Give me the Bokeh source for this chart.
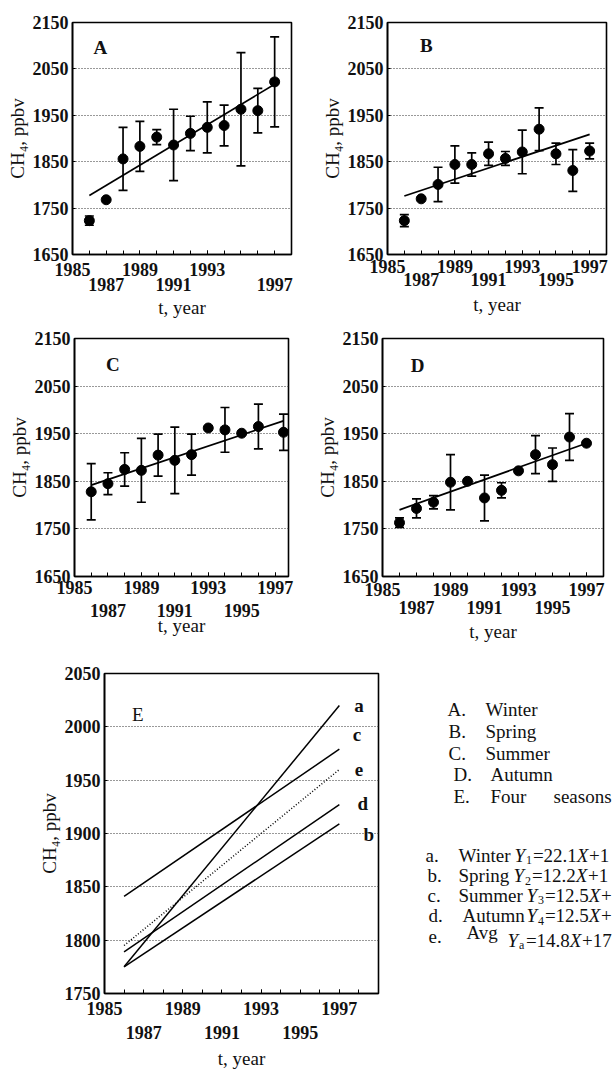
from bokeh.plotting import figure
from bokeh.models import LinearAxis, FixedTicker, ColumnDataSource, Whisker, TeeHead, Label, Range1d
from bokeh.layouts import column, row
from bokeh.embed import file_html
from bokeh.resources import INLINE
from bokeh.core.properties import value

FONT = "Liberation Serif"

# ---------------- data ----------------
years = [1986, 1987, 1988, 1989, 1990, 1991, 1992, 1993, 1994, 1995, 1996, 1997]
years_c = [1986, 1987, 1988, 1989, 1990, 1991, 1992, 1993, 1994, 1995, 1996, 1997.5]

winter_mean = [1723, 1768, 1856, 1883, 1903, 1886, 1911, 1924, 1928, 1963, 1960, 2022]
winter_err = [10, 0, 68, 54, 16, 77, 37, 55, 44, 122, 48, 97]
spring_mean = [1723, 1770, 1801, 1844, 1844, 1867, 1857, 1871, 1920, 1867, 1831, 1873]
spring_err = [13, 0, 37, 40, 25, 25, 15, 47, 46, 23, 45, 17]
summer_mean = [1828, 1845, 1875, 1873, 1905, 1894, 1906, 1962, 1958, 1951, 1965, 1953]
summer_err = [59, 23, 35, 67, 44, 70, 43, 0, 47, 0, 47, 38]
autumn_mean = [1763, 1793, 1806, 1848, 1850, 1815, 1831, 1872, 1906, 1885, 1943, 1930]
autumn_err = [10, 20, 14, 58, 0, 48, 16, 0, 40, 35, 49, 0]

# trend-line end points (year, ppbv)
trend_winter = ([1986, 1997], [1777, 2017])
trend_spring = ([1986, 1997], [1776, 1909])
trend_summer = ([1986, 1997.5], [1842, 1977])
trend_autumn = ([1986, 1997], [1790, 1930])

# panel E lines
e_x = [1986, 1997]
e_letters = ["a", "b", "c", "d", "e"]
e_start = [1775, 1775, 1841, 1789, 1795]
e_end = [2020, 1909, 1979, 1927, 1960]

# legend texts (equations are cut at the right edge in the reference)
panel_keys = ["A.", "B.", "C.", "D.", "E."]
panel_names = ["Winter", "Spring", "Summer", "Autumn", "Four"]
panel_extra = "seasons"
eq_keys = ["a.", "b.", "c.", "d.", "e."]
eq_names = ["Winter", "Spring", "Summer", "Autumn", "Avg"]
eq_subs = ["1", "2", "3", "4", "a"]
eq_slopes = ["22.1", "12.2", "12.5", "12.5", "14.8"]
eq_tails = ["+1", "+1", "+", "+", "+17"]

y_ticks_main = [1650, 1750, 1850, 1950, 2050, 2150]
y_ticks_e = [1750, 1800, 1850, 1900, 1950, 2000, 2050]
upper_years = [1985, 1989, 1993, 1997]
lower_years = [1987, 1991, 1995]
upper_years_a = [1985, 1989, 1993]
lower_years_a = [1987, 1991, 1997]
all_years = list(range(1985, 2000))

TXT = "#111111"


def make_panel(width, height, left, right, top, bottom, x_end, y0, y1, yticks,
               up_ticks, low_ticks, s1, s2, als):
    p = figure(width=width, height=height, x_range=Range1d(1985, x_end),
               y_range=Range1d(y0, y1), x_axis_type=None,
               output_backend="svg", toolbar_location=None,
               min_border_left=left, min_border_right=right,
               min_border_top=top, min_border_bottom=bottom)
    p.background_fill_color = "white"
    p.border_fill_color = "white"
    p.outline_line_color = "black"
    p.outline_line_width = 1.6
    p.outline_line_alpha = 1.0
    ya = p.yaxis[0]
    ya.ticker = FixedTicker(ticks=yticks)
    ya.major_tick_in = 3
    ya.major_tick_out = 0
    ya.minor_tick_line_color = None
    ya.axis_line_width = 1.6
    ya.major_label_text_font = FONT
    ya.major_label_text_font_size = "18px"
    ya.major_label_text_font_style = "bold"
    ya.major_label_text_color = TXT
    ya.major_label_standoff = 4
    ya.axis_label = "CH\u2084, ppbv"
    ya.axis_label_text_font = FONT
    ya.axis_label_text_font_size = "19px"
    ya.axis_label_text_font_style = "normal"
    ya.axis_label_text_color = TXT
    ya.axis_label_standoff = 2
    p.ygrid.ticker = FixedTicker(ticks=yticks[1:-1])
    p.ygrid.grid_line_color = "#333333"
    p.ygrid.grid_line_dash = "1 2"
    p.ygrid.grid_line_width = 1

    ax1 = LinearAxis(ticker=FixedTicker(ticks=up_ticks, minor_ticks=all_years),
                     major_tick_in=4, major_tick_out=0, minor_tick_in=4, minor_tick_out=0,
                     axis_line_width=1.6, major_label_standoff=s1,
                     major_label_text_font=FONT, major_label_text_font_size="18px",
                     major_label_text_font_style="bold",
                     major_label_text_color=TXT)
    ax2 = LinearAxis(ticker=FixedTicker(ticks=low_ticks, minor_ticks=[]),
                     axis_line_color=None, major_tick_line_color=None,
                     minor_tick_line_color=None, major_label_standoff=s2,
                     major_label_text_font=FONT, major_label_text_font_size="18px",
                     major_label_text_font_style="bold",
                     major_label_text_color=TXT,
                     axis_label="t, year", axis_label_standoff=als,
                     axis_label_text_font=FONT, axis_label_text_font_size="19px",
                     axis_label_text_font_style="normal",
                     axis_label_text_color=TXT)
    p.add_layout(ax1, "below")
    p.add_layout(ax2, "below")
    return p


def add_series(p, xs, means, errs, trend, letter, lx, ly):
    bx = [x for x, e in zip(xs, errs) if e > 0]
    bm = [m for m, e in zip(means, errs) if e > 0]
    be = [e for e in errs if e > 0]
    src = ColumnDataSource(dict(base=bx, upper=[m + e for m, e in zip(bm, be)],
                                lower=[m - e for m, e in zip(bm, be)]))
    w = Whisker(source=src, base="base", upper="upper", lower="lower",
                dimension="height", line_width=1.7, line_color="black",
                upper_head=TeeHead(size=9, line_width=1.7, line_color="black"),
                lower_head=TeeHead(size=9, line_width=1.7, line_color="black"))
    p.add_layout(w)
    p.line(trend[0], trend[1], line_color="black", line_width=1.7)
    p.scatter(xs, means, size=10, marker="circle", fill_color="black", line_color="black")
    p.add_layout(Label(x=lx, y=ly, text=letter, text_font=FONT, text_font_size="19px",
                       text_font_style="bold", text_align="center",
                       text_baseline="middle", text_color=TXT))


pA = make_panel(300, 320, 72, 9, 22, 63, 1998, 1650, 2150, y_ticks_main,
                upper_years_a, lower_years_a, 8, -7, 3)
add_series(pA, years, winter_mean, winter_err, trend_winter, "A", 1986.66, 2097)

pB = make_panel(315, 320, 87, 9, 20, 64, 1998, 1650, 2150, y_ticks_main,
                upper_years, lower_years, 5, -9, 5)
add_series(pB, years, spring_mean, spring_err, trend_spring, "B", 1987.3, 2101)

pC = make_panel(300, 340, 74, 12, 16, 84, 1997.8, 1650, 2150, y_ticks_main,
                upper_years, lower_years, 4, 1, -5)
add_series(pC, years_c, summer_mean, summer_err, trend_summer, "C", 1987.3, 2096)

pD = make_panel(315, 340, 82, 12, 18, 83, 1998, 1650, 2150, y_ticks_main,
                upper_years, lower_years, 6, -4, 4)
add_series(pD, years, autumn_mean, autumn_err, trend_autumn, "D", 1987.07, 2093)

pE = make_panel(380, 411, 104, 2, 13, 72, 1999, 1750, 2050, y_ticks_e,
                upper_years, lower_years, 8, 2, 6)
for i, L in enumerate(e_letters):
    dash = "1 2" if L == "e" else "solid"
    pE.line(e_x, [e_start[i], e_end[i]], line_color="black", line_width=1.5, line_dash=dash)
letter_pos = {"a": (1998.0, 2020), "b": (1998.5, 1899), "c": (1997.9, 1992.5),
              "d": (1998.2, 1928.5), "e": (1998.0, 1960)}
for L in e_letters:
    lx, ly = letter_pos[L]
    pE.add_layout(Label(x=lx, y=ly, text=L, text_font=FONT, text_font_size="19px",
                        text_font_style="bold", text_align="center",
                        text_baseline="middle", text_color=TXT))
pE.add_layout(Label(x=1986.7, y=2011.7, text="E", text_font=FONT, text_font_size="19px",
                    text_align="center", text_baseline="middle", text_color=TXT))

# legend / equation area: coordinates are pixels from the top-left of the 235x411 cell
pL = figure(width=235, height=411, x_range=Range1d(0, 235), y_range=Range1d(339, 13),
            x_axis_type=None, y_axis_type=None, output_backend="svg",
            toolbar_location=None, min_border_left=0, min_border_right=0,
            min_border_top=13, min_border_bottom=72)
pL.grid.visible = False
pL.outline_line_color = None
pL.background_fill_color = "white"
pL.border_fill_color = "white"

FS = 19
key_x = [67, 68, 68, 73, 73]
name_x = [105, 105, 105, 110, 110]
key_y = [50, 72, 94, 116, 138]
pL.text(x=key_x, y=key_y, text=panel_keys, text_font=value(FONT), text_font_size=f"{FS}px",
        text_baseline="middle", text_align="left", text_color=TXT)
pL.text(x=name_x, y=key_y, text=panel_names, text_font=value(FONT), text_font_size=f"{FS}px",
        text_baseline="middle", text_align="left", text_color=TXT)
pL.text(x=[173], y=[key_y[4]], text=[panel_extra], text_font=value(FONT),
        text_font_size=f"{FS}px", text_baseline="middle", text_align="left", text_color=TXT)

eq_y = [198, 219, 239, 260, 281]
eq_kx = [45, 47, 47, 48, 48]
eq_nx = [78, 78, 78, 82, 86]
eq_yx = [134, 133, 146, 146, 127]
name_dy = [0, 0, 0, 0, -4]
y_dy = [0, 0, 0, 0, 4]
pL.text(x=eq_kx, y=eq_y, text=eq_keys, text_font=value(FONT), text_font_size=f"{FS}px",
        text_baseline="middle", text_align="left", text_color=TXT)
pL.text(x=eq_nx, y=[a + b for a, b in zip(eq_y, name_dy)], text=eq_names,
        text_font=value(FONT), text_font_size=f"{FS}px",
        text_baseline="middle", text_align="left", text_color=TXT)
for i in range(5):
    x0 = eq_yx[i]
    y0 = eq_y[i] + y_dy[i]
    pieces = [("Y", "italic", FS, 0, 0.60 * FS),
              (eq_subs[i], "normal", 12, 5, 0.5 * 12 + 1),
              ("=" + eq_slopes[i], "normal", FS, 0, (0.564 + 1.5 + 0.25) * FS),
              ("X", "italic", FS, 0, 0.64 * FS),
              (eq_tails[i], "normal", FS, 0, 0)]
    for txt, style, size, dy, wdt in pieces:
        pL.text(x=[x0], y=[y0 + dy], text=[txt], text_font=value(FONT),
                text_font_size=f"{size}px", text_font_style=style,
                text_baseline="middle", text_align="left", text_color=TXT)
        x0 += wdt

layout = column(row(pA, pB), row(pC, pD), row(pE, pL))
open("out.html", "w").write(file_html(layout, INLINE))
